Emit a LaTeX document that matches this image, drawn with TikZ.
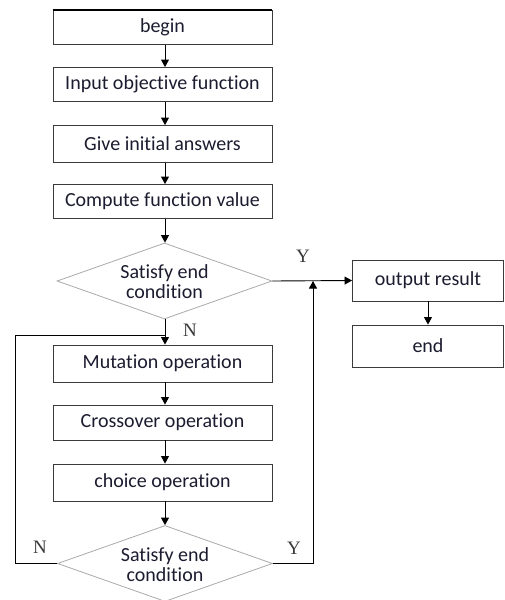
\documentclass[tikz,border=0pt]{standalone}
\usepackage{fontspec}
\setmainfont{Carlito}[Ligatures=NoCommon]
\newfontfamily\lblfont{Liberation Serif}
\usetikzlibrary{shapes.geometric,arrows.meta}
\definecolor{boxline}{HTML}{3A3A3A}
\definecolor{dialine}{HTML}{AAAAAA}
\definecolor{txt}{HTML}{1C1C30}
\begin{document}
\begin{tikzpicture}[x=1pt,y=-1pt,
  stepbox/.style={draw=boxline,line width=0.9pt,rectangle,minimum width=219pt,minimum height=34pt,inner sep=0pt,text=txt,font=\fontsize{20}{22}\selectfont},
  decide/.style={draw=dialine,line width=0.8pt,diamond,minimum width=215pt,minimum height=76pt,inner sep=0pt},
  dtext/.style={text=txt,align=center,inner sep=0pt,font=\fontsize{20}{20}\selectfont},
  conn/.style={draw=black,line width=0.9pt},
  arr/.style={conn,-{Triangle[width=8pt,length=7.5pt]}},
  yn/.style={font=\lblfont\fontsize{19}{19}\selectfont,text=boxline,inner sep=0pt}]
\useasboundingbox (0,0) rectangle (504,600);
\fill[white] (0,0) rectangle (504,600);
\node[stepbox] (begin) at (162.5,27.5) {begin};
\draw[line width=2.6pt,black] (begin.north west) -- (begin.north east);
\node[stepbox] (input) at (162.5,84.5) {Input objective function};
\node[stepbox,minimum height=37pt] (give) at (162.5,144) {Give initial answers};
\node[stepbox] (comp) at (162.5,201.5) {Compute function value};
\node[decide] (d1) at (164.5,281) {};
\node[dtext] (d1t) at (164.5,282) {Satisfy end\\condition};
\node[stepbox,minimum width=151pt,minimum height=41pt] (out) at (428,280.5) {output result};
\node[stepbox,minimum width=151pt,minimum height=42pt] (end) at (428,346) {end};
\node[stepbox,minimum height=37pt] (mut) at (162.5,363.5) {Mutation operation};
\node[stepbox,minimum height=35pt] (cross) at (162.5,422.5) {Crossover operation};
\node[stepbox,minimum height=37pt] (choice) at (162.5,482.5) {choice operation};
\node[decide] (d2) at (165,563.5) {};
\node[dtext] (d2t) at (165,565) {Satisfy end\\condition};
\coordinate (loopL) at (15,335);
\coordinate (loopR) at (313,563.5);
\coordinate (join) at (313,281);
\draw[arr] (begin.south -| 165,0) -- (input.north -| 165,0);
\draw[arr] (input.south -| 165,0) -- (give.north -| 165,0);
\draw[arr] (give.south -| 165,0) -- (comp.north -| 165,0);
\draw[arr] (comp.south -| 165,0) -- (d1.north -| 165,0);
\draw[arr] (d1.east) -- (out.west);
\draw[arr] (out.south) -- (end.north);
\draw[arr] (d1.south -| 165,0) -- (mut.north -| 165,0);
\draw[arr] (mut.south -| 165,0) -- (cross.north -| 165,0);
\draw[arr] (cross.south -| 165,0) -- (choice.north -| 165,0);
\draw[arr] (choice.south -| 165,0) -- (d2.north -| 165,0);
\draw[conn] (d2.west) -| (loopL) -- (loopL -| 165,0);
\draw[arr] (d2.east) -- (loopR) -- (join);
\node[yn] (y1) at (303,256) {Y};
\node[yn] (n1) at (190,330) {N};
\node[yn] (n2) at (40,547) {N};
\node[yn] (y2) at (294,548) {Y};
\end{tikzpicture}
\end{document}
